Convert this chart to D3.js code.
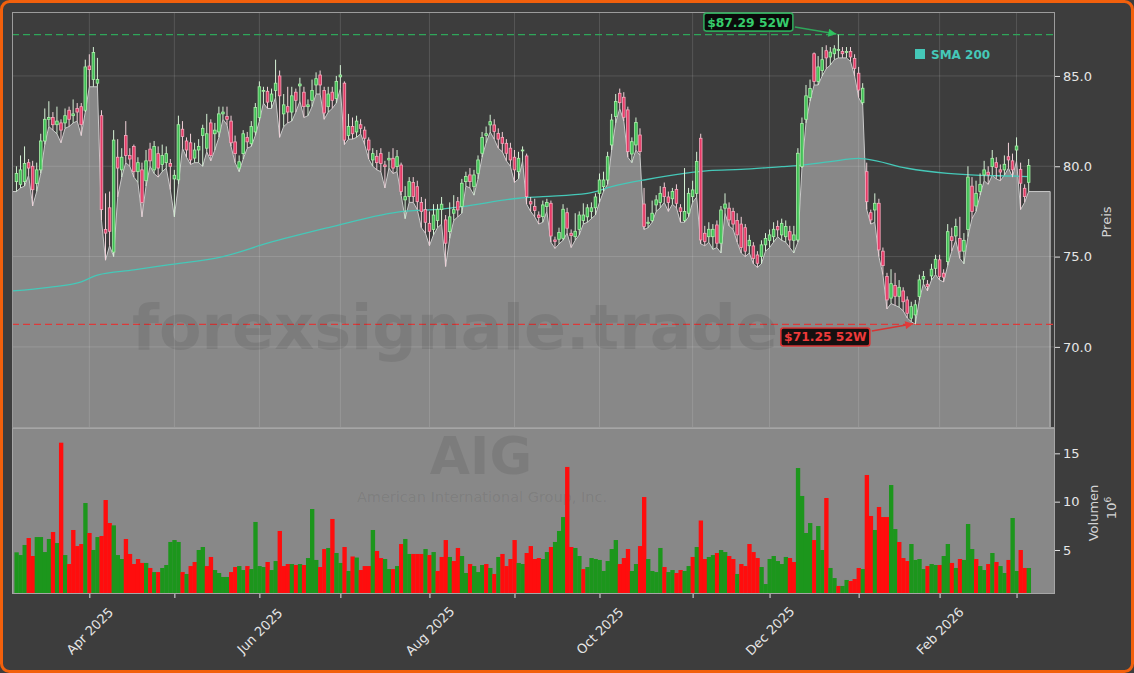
<!DOCTYPE html>
<html><head><meta charset="utf-8">
<script src="https://cdn.jsdelivr.net/npm/d3@7"></script>
<style>html,body{margin:0;padding:0;background:#3d3d3d;overflow:hidden}svg{display:block;font-family:"DejaVu Sans",sans-serif}</style>
</head><body><svg id="c" width="1134" height="673"></svg>
<script>
// ---------------- DATA ----------------
const opens = [79.15,79.0,79.15,80.2,80.0,79.05,79.8,81.4,82.6,82.7,
 82.3,82.4,82.4,83.1,82.8,83.2,83.3,83.1,85.55,84.8,
 84.6,82.8,76.5,77.7,75.25,80.5,79.8,81.7,80.6,81.1,
 79.7,79.8,79.2,80.95,79.8,80.7,80.1,80.2,80.15,79.3,
 79.25,82.05,81.4,81.3,80.45,80.9,81.7,81.0,82.4,81.8,
 81.9,82.9,82.75,82.5,81.35,79.9,80.7,81.6,81.25,81.9,
 82.7,84.15,84.15,83.6,84.2,85.0,82.9,83.3,83.0,84.1,
 84.45,84.1,83.3,83.65,84.5,85.05,84.2,83.3,84.1,83.75,
 84.95,84.6,81.7,82.2,81.9,82.3,82.0,81.45,80.35,80.55,
 80.7,80.07,80.35,80.44,79.98,80.07,78.14,78.32,79.1,78.87,
 78.0,77.6,76.84,76.5,77.0,77.6,77.03,76.38,77.4,78.04,
 77.77,79.15,79.52,78.87,79.61,80.72,81.7,82.29,82.29,81.82,
 81.6,81.27,81.0,80.5,79.7,80.85,80.57,78.04,77.77,77.3,
 77.21,77.77,77.95,75.92,75.96,76.01,77.43,76.29,76.1,76.5,
 77.0,77.2,77.5,77.7,78.5,78.87,79.24,81.18,82.75,84.04,
 83.82,83.12,80.68,81.18,81.73,77.91,76.84,77.0,77.86,78.0,
 78.83,78.3,78.2,78.72,77.7,77.0,77.4,78.32,78.5,81.55,
 76.29,76.1,76.1,76.75,75.74,77.68,77.68,77.5,77.0,76.8,
 76.6,75.6,75.59,75.09,75.0,75.65,75.9,76.1,76.66,76.2,
 76.1,76.38,75.9,75.92,79.98,82.6,83.8,86.23,84.7,85.3,
 86.4,86.05,86.23,86.42,86.36,86.3,86.36,85.97,85.15,83.52,
 79.7,77.43,77.58,77.95,75.3,73.9,72.7,73.4,72.8,73.1,
 72.6,71.59,71.77,72.79,73.75,73.47,73.93,74.35,74.82,74.08,
 74.72,76.1,76.14,76.0,75.3,76.5,78.9,77.8,78.6,79.52,
 79.67,79.98,80.2,79.8,79.8,80.53,80.3,80.9,79.83,78.78,
 79.11];
const highs = [80.0,80.6,81.1,80.4,80.3,80.2,81.8,83.2,83.6,83.0,
 83.3,82.6,83.2,83.3,83.7,83.5,83.5,85.9,86.2,86.6,
 86.0,83.1,78.5,78.6,82.0,81.5,81.0,82.5,81.0,81.2,
 80.5,80.2,80.9,81.3,81.4,81.1,81.2,81.1,80.4,79.8,
 82.8,82.5,81.6,81.8,81.3,81.5,82.3,82.9,82.6,82.4,
 83.3,83.3,83.3,82.8,81.7,80.6,82.0,81.9,82.5,83.5,
 84.7,84.4,84.4,84.3,85.9,85.3,84.0,84.4,84.4,84.3,
 84.9,84.4,83.7,84.8,85.2,85.3,84.4,84.4,84.4,85.0,
 85.6,84.7,82.9,82.7,82.8,82.6,82.2,81.6,81.0,80.9,
 81.0,80.3,80.8,81.0,80.9,80.2,78.9,79.4,79.4,79.2,
 78.3,78.2,77.5,77.9,77.9,78.3,77.3,78.0,78.4,78.3,
 79.3,79.7,79.9,79.8,80.6,81.9,82.2,82.85,82.6,82.1,
 81.9,81.5,81.3,80.9,80.8,81.1,80.7,78.3,78.2,77.5,
 78.1,78.2,78.1,76.1,76.6,77.9,77.7,76.5,77.4,77.5,
 77.95,77.9,78.0,78.5,79.6,79.7,80.8,82.9,84.0,84.3,
 84.1,83.3,81.6,82.7,82.1,78.8,77.2,78.1,78.4,78.9,
 79.1,78.6,78.8,79.0,77.9,79.9,78.8,79.2,80.8,81.8,
 76.7,76.9,76.8,77.0,77.8,78.5,78.0,77.7,77.4,77.2,
 76.8,76.2,75.8,75.3,75.9,76.3,76.5,76.9,77.0,77.1,
 77.0,76.7,76.7,81.0,82.7,84.5,84.8,86.3,86.1,86.6,
 86.7,86.6,86.7,87.29,86.6,86.6,86.6,86.2,85.5,84.6,
 80.2,77.6,78.5,78.2,75.5,74.1,74.3,74.1,73.7,73.3,
 72.8,72.5,72.6,74.0,74.2,73.7,74.6,75.1,75.1,74.3,
 76.8,76.6,77.1,77.2,76.3,80.0,79.4,79.2,79.6,80.3,
 80.0,80.9,80.5,80.1,80.6,81.3,80.7,81.6,80.2,79.0,
 80.4];
const lows = [78.6,78.8,78.9,79.5,77.8,78.6,79.6,81.2,82.2,82.0,
 81.8,81.3,82.1,82.2,82.4,82.5,81.7,83.0,84.4,84.4,
 84.4,77.0,74.8,75.6,75.0,78.3,79.4,80.2,80.0,79.4,
 79.1,77.2,78.9,80.0,79.6,79.4,79.7,79.9,78.7,77.2,
 79.0,81.0,80.5,80.1,80.2,80.2,80.0,80.8,80.3,80.9,
 81.6,82.6,82.3,81.1,80.2,79.7,80.4,81.0,81.1,81.7,
 82.5,83.5,83.2,83.2,83.8,81.6,82.2,82.4,82.5,83.0,
 83.6,82.7,82.8,83.3,84.0,84.0,82.6,83.0,83.2,83.5,
 84.3,81.2,81.5,81.5,81.6,81.8,81.2,80.4,80.0,79.8,
 79.7,78.8,79.9,79.6,79.7,78.4,77.1,78.0,78.0,77.6,
 76.6,76.3,75.6,76.2,76.6,76.8,74.45,76.0,77.0,77.2,
 77.4,78.9,78.8,78.4,79.3,80.5,81.3,81.9,81.5,81.0,
 80.8,80.3,80.0,79.1,79.3,80.3,77.9,77.5,77.2,76.8,
 76.9,77.5,75.8,75.45,75.7,75.9,76.3,75.5,75.9,76.2,
 76.8,76.9,77.1,77.3,78.0,78.6,79.0,80.9,82.4,83.2,
 82.5,80.5,80.2,80.9,80.6,76.5,76.6,76.9,77.5,77.7,
 78.0,77.5,77.9,77.7,76.9,76.9,77.2,78.0,78.3,75.7,
 75.6,75.8,75.4,75.5,75.2,77.4,76.7,76.5,75.8,75.2,
 75.0,75.2,74.6,74.4,74.6,75.3,75.5,75.8,76.1,75.9,
 75.8,75.5,75.2,75.8,79.9,82.4,83.6,84.5,84.5,85.0,
 85.4,85.6,85.9,86.0,86.0,86.0,85.8,85.0,83.8,83.4,
 77.6,76.8,76.9,75.0,74.0,72.1,72.4,72.3,72.2,72.0,
 71.6,71.4,71.25,72.6,73.5,73.1,73.7,74.0,73.7,73.6,
 74.5,75.3,75.9,74.9,74.6,76.1,77.1,77.5,78.4,79.2,
 79.0,79.5,79.3,79.2,79.5,79.9,79.4,80.3,77.6,78.0,
 78.6];
const closes = [79.6,79.8,80.15,79.9,78.7,79.8,81.4,82.6,82.7,82.3,
 82.5,82.0,82.8,82.6,82.9,83.0,82.3,85.5,85.35,86.3,
 84.8,77.6,76.3,76.4,81.45,79.9,80.5,80.6,80.4,79.7,
 80.2,78.0,80.3,80.3,81.1,79.9,80.6,80.7,80.0,79.5,
 82.3,81.65,80.9,80.35,80.9,81.1,82.1,81.8,80.6,82.0,
 82.9,83.0,82.6,81.3,80.7,80.25,81.8,81.35,82.2,83.25,
 84.4,84.2,83.55,84.0,84.6,83.9,83.4,83.0,83.9,83.65,
 84.55,83.3,83.4,84.2,84.85,84.5,82.95,84.0,83.65,84.7,
 85.05,81.45,82.2,81.8,82.5,82.1,81.55,80.9,80.7,80.2,
 80.15,79.98,80.44,79.9,80.53,78.6,78.32,79.15,78.32,78.04,
 77.5,76.9,76.4,77.3,77.6,77.9,75.74,77.2,77.6,77.58,
 79.06,79.43,79.15,79.52,80.35,81.6,81.8,82.47,81.92,81.5,
 81.27,80.72,80.35,79.8,80.44,80.9,78.32,77.91,77.55,77.16,
 77.86,77.99,76.14,75.83,76.33,77.62,76.57,76.16,76.4,77.3,
 77.3,77.7,77.7,78.3,79.24,79.24,80.53,82.56,83.58,83.52,
 82.71,80.81,81.36,82.42,80.81,76.66,76.9,77.4,78.14,78.5,
 78.32,78.0,78.6,77.95,77.5,77.5,78.5,78.69,80.26,75.92,
 75.83,76.51,76.51,75.74,77.58,77.91,77.03,76.8,76.2,75.5,
 75.3,75.9,74.9,74.63,75.65,76.0,76.2,76.51,76.48,76.84,
 76.66,75.92,76.2,80.72,82.37,83.9,84.3,84.69,85.5,85.9,
 86.0,86.32,86.5,86.46,86.23,86.36,86.05,85.42,84.22,84.32,
 78.04,77.03,77.95,75.37,74.5,72.6,73.5,72.8,73.3,72.5,
 71.86,72.23,72.33,73.71,73.9,73.34,74.3,74.85,73.9,73.86,
 76.38,75.89,76.66,75.3,75.9,79.4,77.5,78.5,79.0,79.8,
 79.52,80.44,79.93,79.68,80.11,80.35,79.8,81.12,79.06,78.32,
 80.04];
const volumes = [4.76,4.48,5.52,6.24,4.38,6.34,6.34,4.79,6.14,6.86,
 5.72,16.1,4.48,3.55,7.07,5.41,5.62,9.86,6.76,5.0,
 6.34,6.45,10.17,7.79,7.55,4.48,4.07,6.14,4.59,3.55,
 4.07,3.66,3.66,3.14,2.72,2.72,3.14,3.45,5.83,6.03,
 5.83,2.72,2.52,3.34,3.76,5.0,5.31,3.34,4.28,2.93,
 2.62,2.21,2.21,2.72,3.24,3.34,2.93,3.34,3.03,7.9,
 3.34,3.24,3.76,2.93,3.86,6.97,3.34,3.55,3.55,3.45,
 3.55,3.45,4.17,9.24,3.97,3.24,5.1,5.21,8.21,4.69,
 3.66,5.31,2.83,4.33,4.22,2.93,3.34,3.34,7.07,4.9,
 4.17,4.07,3.03,3.03,3.34,5.62,6.14,4.59,4.59,4.59,
 4.59,5.1,4.48,4.79,2.83,4.28,6.03,4.28,3.86,5.21,
 4.38,2.62,3.55,3.34,2.72,3.45,3.55,3.14,2.52,4.28,
 4.59,3.34,4.07,6.03,3.66,3.55,4.69,5.41,4.07,4.17,
 4.07,4.79,5.31,5.83,6.97,8.41,13.59,5.31,5.21,4.38,
 3.03,3.24,4.17,4.07,3.97,2.83,3.86,5.1,6.03,3.55,
 4.17,5.1,2.83,3.55,5.41,10.48,4.07,2.83,2.72,5.21,
 3.24,2.72,2.93,2.62,2.93,2.83,3.34,4.28,5.31,8.05,
 4.07,4.28,4.48,4.69,5.0,4.79,4.38,4.07,2.52,3.55,
 3.34,5.62,4.79,4.17,3.24,1.48,4.07,4.38,3.86,3.55,
 4.28,4.17,3.76,13.48,10.59,6.76,7.79,6.03,7.48,5.0,
 10.38,3.14,2.1,1.28,1.28,1.9,1.79,2.0,3.14,3.03,
 12.76,8.52,7.07,9.45,8.41,8.41,11.72,7.17,5.83,4.17,
 3.86,5.62,3.97,4.07,3.03,3.34,3.55,3.45,3.45,4.38,
 5.62,3.66,3.14,4.07,3.97,7.69,5.1,4.07,3.34,2.93,
 3.55,4.69,3.76,3.34,2.62,3.97,8.31,2.83,5.0,3.14,
 3.14];
const volumeDirs = ("gggrrggggrg"+"rgrrrrgrgg"+"rrrgggrrrr"+"rgrgrggggg"+"rgrrggrrgg"+
 "ggrrggrggg"+"grggrrrgrg"+"rgggrrgrgg"+"rgrgrrrgrr"+"ggrgrggrrr"+
 "grgrrrgrrg"+"grgggrgrgr"+"rrrggrrrrg"+"grgggrrggr"+"ggggggggrr"+
 "rggrrggggr"+"ggrrggrgrr"+"ggrggrrgrr"+"rrrggggggg"+"rrggggrggr"+
 "ggrggrrrgr"+"rgrrrggrrr"+"ggggrggrgg"+"rgrgggrggr"+"grggrggrrg").split("");
const smaIdx  = [-1,8,16,20,29,37,51,62,78,90,95,105,110,124,130,141,147,155,165,171,179,189,193,201,208,210,220,230,238,246,250];
const smaVals = [73.1,73.3,73.6,73.98,74.26,74.53,75.0,75.74,76.66,77.3,77.49,77.63,77.76,78.23,78.32,78.5,78.87,79.24,79.61,79.76,79.83,79.98,80.04,80.26,80.44,80.4,79.89,79.61,79.5,79.46,79.43];
const monthTickIdx    = [18,39,60,80,102,123,144,167,186,208,228,247];
const monthTickLabels = ["Apr 2025","","Jun 2025","","Aug 2025","","Oct 2025","","Dec 2025","","Feb 2026",""];
const priceTicks = [70,75,80,85];
const volumeTicks = [5,10,15];
const areaEndIdx = 255.3;

// ---------------- LAYOUT ----------------
const W=1134,H=673;
const L=12,R=1055,PT=12,PB=428,VT=428,VB=594;
const BG="#3d3d3d";
const svg=d3.select("#c");
const x=d3.scaleLinear().domain([-1.1,256.5]).range([L,R]);
const y=d3.scaleLinear().domain([65.51,88.54]).range([PB,PT]);
const yv=d3.scaleLinear().domain([0.45,17.62]).range([VB,VT]);

const n=closes.length;
const candles=d3.range(n).map(i=>({i,o:opens[i],h:highs[i],l:lows[i],c:closes[i],v:volumes[i],dir:volumeDirs[i]}));

svg.append("rect").attr("width",W).attr("height",H).attr("fill",BG);
const defs=svg.append("defs");
defs.append("clipPath").attr("id","cp").append("rect").attr("x",L).attr("y",PT).attr("width",R-L).attr("height",PB-PT);
defs.append("clipPath").attr("id","cv").append("rect").attr("x",L).attr("y",VT).attr("width",R-L).attr("height",VB-VT);
function marker(id,color){
  defs.append("marker").attr("id",id).attr("viewBox","0 0 10 10").attr("refX",10).attr("refY",5)
   .attr("markerWidth",9).attr("markerHeight",8).attr("markerUnits","userSpaceOnUse").attr("orient","auto")
   .append("path").attr("d","M0,0L10,5L0,10z").attr("fill",color);
}
marker("ag","#2fc25f");marker("ar","#e23a3a");

// ---------------- PRICE PANEL ----------------
const gp=svg.append("g").attr("clip-path","url(#cp)");
const areaPts=[{i:x.domain()[0],v:lows[0]}].concat(candles.map(d=>({i:d.i,v:d.l}))).concat([{i:areaEndIdx,v:lows[n-1]}]);
gp.append("path").datum(areaPts)
  .attr("d",d3.area().x(d=>x(d.i)).y0(PB).y1(d=>y(d.v)))
  .attr("fill","#888888");
gp.append("path").datum(areaPts)
  .attr("d",d3.line().x(d=>x(d.i)).y(d=>y(d.v)))
  .attr("fill","none").attr("stroke","#c9c9c9").attr("stroke-width",1);
gp.append("line").attr("x1",x(areaEndIdx)).attr("x2",x(areaEndIdx)).attr("y1",y(lows[n-1])).attr("y2",PB)
  .attr("stroke","#c9c9c9").attr("stroke-width",1);

// grid
gp.selectAll(".hg").data(priceTicks).join("line").attr("x1",L).attr("x2",R)
  .attr("y1",d=>y(d)).attr("y2",d=>y(d)).attr("stroke","#ffffff").attr("stroke-opacity",0.13);
gp.selectAll(".vg").data(monthTickIdx).join("line").attr("y1",PT).attr("y2",PB)
  .attr("x1",d=>x(d)).attr("x2",d=>x(d)).attr("stroke","#ffffff").attr("stroke-opacity",0.13);

// watermark
const wm=svg.append("g").attr("fill","#000").attr("fill-opacity",0.085).attr("text-anchor","middle");
wm.append("text").attr("x",455).attr("y",349).attr("font-size",62).attr("font-weight","bold").text("forexsignale.trade");

// 52w lines
const hiIdx=d3.maxIndex(highs), loIdx=d3.minIndex(lows);
const hiVal=highs[hiIdx], loVal=lows[loIdx];
gp.append("line").attr("x1",L).attr("x2",R).attr("y1",y(hiVal)).attr("y2",y(hiVal))
  .attr("stroke","#2fa65a").attr("stroke-width",1.4).attr("stroke-dasharray","7,4");
gp.append("line").attr("x1",L).attr("x2",R).attr("y1",y(loVal)).attr("y2",y(loVal))
  .attr("stroke","#dc3a3a").attr("stroke-width",1.3).attr("stroke-dasharray","7,4");

// SMA
gp.append("path").datum(d3.zip(smaIdx,smaVals))
  .attr("d",d3.line().x(d=>x(d[0])).y(d=>y(d[1])).curve(d3.curveMonotoneX))
  .attr("fill","none").attr("stroke","#45c8b8").attr("stroke-width",1.3);

// candles
const bw=2.6;
const cg=gp.append("g");
cg.selectAll(".w").data(candles).join("line")
  .attr("x1",d=>x(d.i)).attr("x2",d=>x(d.i)).attr("y1",d=>y(d.h)).attr("y2",d=>y(d.l))
  .attr("stroke",d=>d.c>=d.o?"#d6f2d6":"#f2d2da").attr("stroke-width",1);
cg.selectAll(".b").data(candles).join("rect")
  .attr("x",d=>x(d.i)-bw/2).attr("width",bw)
  .attr("y",d=>y(Math.max(d.o,d.c)))
  .attr("height",d=>Math.max(0.9,Math.abs(y(d.o)-y(d.c))))
  .attr("fill",d=>d.c>=d.o?"#3fbf55":"#e53a66")
  .attr("stroke",d=>d.c>=d.o?"#a9f0a9":"#f6a9bd").attr("stroke-width",0.8);

// ---------------- VOLUME PANEL ----------------
svg.append("rect").attr("x",L).attr("y",VT).attr("width",R-L).attr("height",VB-VT).attr("fill","#888888");
wm.raise();
wm.append("text").attr("x",481).attr("y",474).attr("font-size",52).attr("font-weight","bold").text("AIG");
wm.append("text").attr("x",482).attr("y",502).attr("font-size",14.5).text("American International Group, Inc.");
const step=x(1)-x(0);
svg.append("g").attr("clip-path","url(#cv)").selectAll("rect").data(candles).join("rect")
  .attr("x",d=>x(d.i)-step/2).attr("width",step+0.3)
  .attr("y",d=>yv(d.v)).attr("height",d=>yv(0)-yv(d.v))
  .attr("fill",d=>d.dir==="g"?"#1c961c":"#ff0d0d");

// frames
svg.append("rect").attr("x",L+0.5).attr("y",PT+0.5).attr("width",R-L-1).attr("height",PB-PT-1)
  .attr("fill","none").attr("stroke","#9c9c9c").attr("stroke-width",1);
svg.append("rect").attr("x",L+0.5).attr("y",VT+0.5).attr("width",R-L-1).attr("height",VB-VT-1)
  .attr("fill","none").attr("stroke","#a6a6a6").attr("stroke-width",1);

// ---------------- AXES ----------------
function styleAxis(g){
  g.attr("font-family","DejaVu Sans").attr("font-size",13);
  g.select(".domain").remove();
  g.selectAll(".tick line").attr("stroke","#e0e0e0");
  g.selectAll(".tick text").attr("fill","#e6e6e6");
}
svg.append("g").attr("transform",`translate(${R},0)`)
  .call(d3.axisRight(y).tickValues(priceTicks).tickFormat(d3.format(".1f")).tickSize(5).tickPadding(3)).call(styleAxis);
svg.append("g").attr("transform",`translate(${R},0)`)
  .call(d3.axisRight(yv).tickValues(volumeTicks).tickFormat(d3.format("d")).tickSize(5).tickPadding(3)).call(styleAxis);
const gx=svg.append("g").attr("transform",`translate(0,${VB})`)
  .call(d3.axisBottom(x).tickValues(monthTickIdx).tickFormat(d=>monthTickLabels[monthTickIdx.indexOf(d)]).tickSize(4).tickPadding(0))
  .call(styleAxis);
gx.selectAll(".tick text").attr("y",0).attr("dy","0.35em").attr("text-anchor","middle")
  .attr("transform","translate(0,37) rotate(-45)");

// axis titles
svg.append("text").attr("transform","translate(1106,222) rotate(-90)").attr("text-anchor","middle")
  .attr("dy","0.35em").attr("fill","#d4d4d4").attr("font-size",13).text("Preis");
svg.append("text").attr("transform","translate(1093,513) rotate(-90)").attr("text-anchor","middle")
  .attr("dy","0.35em").attr("fill","#d4d4d4").attr("font-size",13).text("Volumen");
const t6=svg.append("text").attr("transform","translate(1111,508) rotate(-90)").attr("text-anchor","middle")
  .attr("dy","0.35em").attr("fill","#d4d4d4").attr("font-size",13);
t6.append("tspan").text("10");
t6.append("tspan").attr("dy","-0.5em").attr("font-size",9).text("6");

// legend
svg.append("rect").attr("x",915).attr("y",49).attr("width",10).attr("height",10).attr("fill","#45c8b8");
svg.append("text").attr("x",931).attr("y",58.5).attr("fill","#45c8b8").attr("font-size",12).attr("font-weight","bold").text("SMA 200");

// 52w annotations
function annot(idx,val,dx,dy,txt,stroke,fill,txtColor,mk){
  const px=x(idx),py=y(val);
  const cx=px+dx,cy=py+dy,bw2=89,bh=18;
  const g=svg.append("g");
  const ax1=cx+bw2/2+2, ay1=cy+(dy<0?5:-6);
  g.append("line").attr("x1",ax1).attr("y1",ay1).attr("x2",px-2).attr("y2",py-0.5)
    .attr("stroke",stroke).attr("stroke-width",1.6).attr("marker-end",`url(#${mk})`);
  g.append("rect").attr("x",cx-bw2/2).attr("y",cy-bh/2).attr("width",bw2).attr("height",bh).attr("rx",2.5)
    .attr("fill",fill).attr("stroke",stroke).attr("stroke-width",1.6);
  g.append("text").attr("x",cx).attr("y",cy).attr("dy","0.36em").attr("text-anchor","middle")
    .attr("font-size",12.3).attr("font-weight","bold").attr("fill",txtColor).text(txt);
}
annot(hiIdx,hiVal,-90,-12.5,`$${hiVal.toFixed(2)} 52W`,"#2fa65a","#0b0b0b","#36cc6c","ag");
annot(loIdx,loVal,-90,12.7,`$${loVal.toFixed(2)} 52W`,"#d83434","#161010","#ee3a3a","ar");

// outer border
svg.append("rect").attr("x",1.5).attr("y",1.5).attr("width",W-3).attr("height",H-3).attr("rx",8)
  .attr("fill","none").attr("stroke","#f2600c").attr("stroke-width",3);
</script></body></html>
